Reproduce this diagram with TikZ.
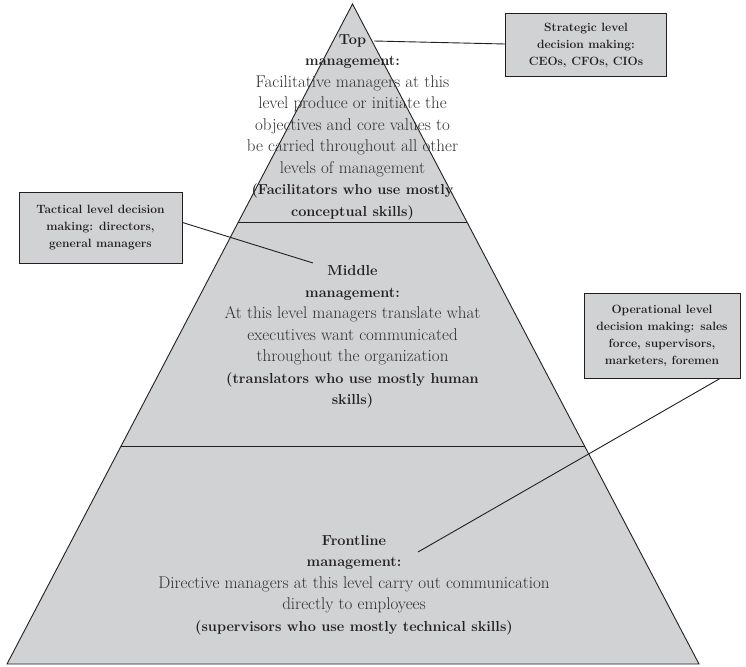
\documentclass[tikz,border=0pt]{standalone}
\usetikzlibrary{calc}
\definecolor{pyrfill}{HTML}{D1D2D4}
\definecolor{ink}{HTML}{231F20}
\definecolor{bodyink}{HTML}{2E2E2E}
\newcommand\tierhead[1]{{\fontsize{14.5}{21.5}\selectfont\color{ink}\bfseries #1}}
\begin{document}
\begin{tikzpicture}[x=1pt,y=-1pt,
  divider/.style={draw=ink, line width=1.2pt},
  outline/.style={draw=ink, line width=0.9pt, line join=miter},
  callout/.style={draw=ink, fill=pyrfill, line width=1pt, align=center, inner sep=0pt,
    text=ink, font=\fontsize{12}{17}\selectfont\bfseries},
  leader/.style={draw=ink, line width=0.9pt},
  tiertext/.style={align=center, text=bodyink, font=\fontsize{17}{21.5}\selectfont, inner sep=0pt},
]
\useasboundingbox (0,0) rectangle (746,666);

% pyramid corners
\coordinate (apex) at (352.5,4);
\coordinate (bl) at (7,664);
\coordinate (br) at (699,664);

\fill[pyrfill] (apex) -- (br) -- (bl) -- cycle;
\draw[divider] ($(apex)!0.331!(bl)$) -- ($(apex)!0.331!(br)$);
\draw[divider] ($(apex)!0.6705!(bl)$) -- ($(apex)!0.6705!(br)$);
\draw[outline] (apex) -- (br) -- (bl) -- cycle;

% tier texts
\node[tiertext] (top) at (352.5,127) {\tierhead{Top}\\\tierhead{management:}\\
  Facilitative managers at this\\level produce or initiate the\\
  objectives and core values to\\be carried throughout all other\\
  levels of management\\\tierhead{(Facilitators who use mostly}\\
  \tierhead{conceptual skills)}};
\node[tiertext] (middle) at (352.5,337) {\tierhead{Middle}\\\tierhead{management:}\\
  At this level managers translate what\\executives want communicated\\
  throughout the organization\\\tierhead{(translators who use mostly human}\\
  \tierhead{skills)}};
\node[tiertext] (front) at (354,585) {\tierhead{Frontline}\\\tierhead{management:}\\
  Directive managers at this level carry out communication\\
  directly to employees\\\tierhead{(supervisors who use mostly technical skills)}};

% decision-making callouts
\node[callout, minimum width=161pt, minimum height=63pt] (strategic) at (586,45.5)
  {Strategic level\\decision making:\\CEOs, CFOs, CIOs};
\node[callout, minimum width=163pt, minimum height=71pt] (tactical) at (100.5,227.5)
  {Tactical level decision\\making: directors,\\general managers};
\node[callout, minimum width=156pt, minimum height=85pt] (operational) at (662,335.5)
  {Operational level\\decision making: sales\\force, supervisors,\\marketers, foremen};

% leader lines
\coordinate (topword) at (374,41);
\coordinate (midword) at (313,263);
\coordinate (frontword) at (418,552);
\draw[leader] (topword) -- ($(strategic.west)+(0,-1.5)$);
\draw[leader] ($(tactical.east)+(0,-5)$) -- (midword);
\draw[leader] (frontword) -- ($(operational.south)+(58,0)$);
\end{tikzpicture}
\end{document}
